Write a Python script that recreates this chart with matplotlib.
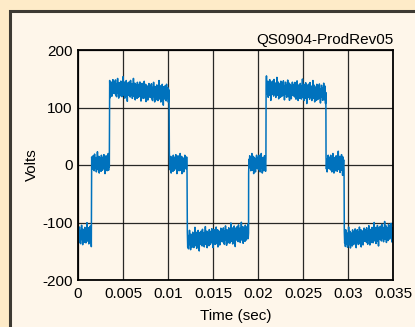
from matplotlib import pyplot as plt
from matplotlib.patches import Rectangle
import numpy as np

plt.rcParams['font.family'] = ['Liberation Sans', 'DejaVu Sans']
plt.rcParams['axes.unicode_minus'] = False

# segment boundaries (sec) and levels (V)
seg_edges = [0, 0.00152, 0.00352, 0.01015, 0.01215, 0.01896, 0.0209, 0.02756, 0.02959, 0.035]
level_start = [-123, 2, 134, 2, -132, 2, 133, 2, -130]
level_end = [-122, 2, 123, 2, -119, 2, 124, 2, -117]

# noise pattern (V) estimated from the ripple on the plateaus
noise = [6, -9, 12, -4, 15, -11, 3, -14, 9, -2, 18, -7, 4, -16, 11, -5, 8, -12, 2, 14,
         -8, 5, -13, 10, -3, 22, -10, 7, -6, 13, -15, 1, 9, -11, 16, -4, 6, -20, 12, -1,
         7, -9, 14, -6, 3, -12, 17, -8, 5, -3, 11, -14, 8, -5, 21, -10, 2, -7, 13, -16,
         4, 10, -8, 6, -13, 15, -2, 9, -11, 3, 12, -6, 16, -9, 1, -17, 8, -4, 14, -7,
         5, -12, 10, -3, 18, -11, 7, -5, 13, -17, 2, 11, -9, 6, -14, 9, -1, 15, -8, 4]

xticks = [0, 0.005, 0.01, 0.015, 0.02, 0.025, 0.03, 0.035]
xticklabels = ['0', '0.005', '0.01', '0.015', '0.02', '0.025', '0.03', '0.035']
yticks = [-200, -100, 0, 100, 200]

dt = 0.00004
t_all = []
v_all = []
k = 0
for i in range(len(level_start)):
    t = np.arange(seg_edges[i], seg_edges[i + 1], dt)
    base = np.linspace(level_start[i], level_end[i], len(t))
    for j in range(len(t)):
        t_all.append(t[j])
        v_all.append(base[j] + noise[k % len(noise)])
        k += 1

fig = plt.figure(figsize=(4.15, 3.27), dpi=100)
fig.patch.set_facecolor('#FEEBC8')
fig.patches.append(Rectangle((9.5 / 415, -0.1), 1.2, 1 - 10.5 / 327 + 0.1,
                             transform=fig.transFigure, facecolor='#FEF6EA',
                             edgecolor='#3D3A33', lw=2.2, zorder=-5))

ax = fig.add_axes([78 / 415, 1 - 280 / 327, 315 / 415, 230 / 327])
ax.set_facecolor('#FEF6EA')
ax.plot(t_all, v_all, color='#0072BD', lw=1.1)

ax.set_xlim(0, 0.035)
ax.set_ylim(-200, 200)
ax.set_xticks(xticks)
ax.set_xticklabels(xticklabels)
ax.set_yticks(yticks)
ax.grid(True, color='#111111', lw=0.9, alpha=0.9)
ax.tick_params(direction='in', length=0, labelsize=11)
ax.tick_params(axis='x', pad=5)
ax.tick_params(axis='y', pad=4)
for s in ax.spines.values():
    s.set_linewidth(1.3)
    s.set_color('black')

ax.set_xlabel('Time (sec)', fontsize=11, labelpad=6)
ax.set_ylabel('Volts', fontsize=11, labelpad=2)
ax.set_title('QS0904-ProdRev05', loc='right', fontsize=11, pad=4)

plt.savefig('out.png', dpi=100, facecolor=fig.get_facecolor())
